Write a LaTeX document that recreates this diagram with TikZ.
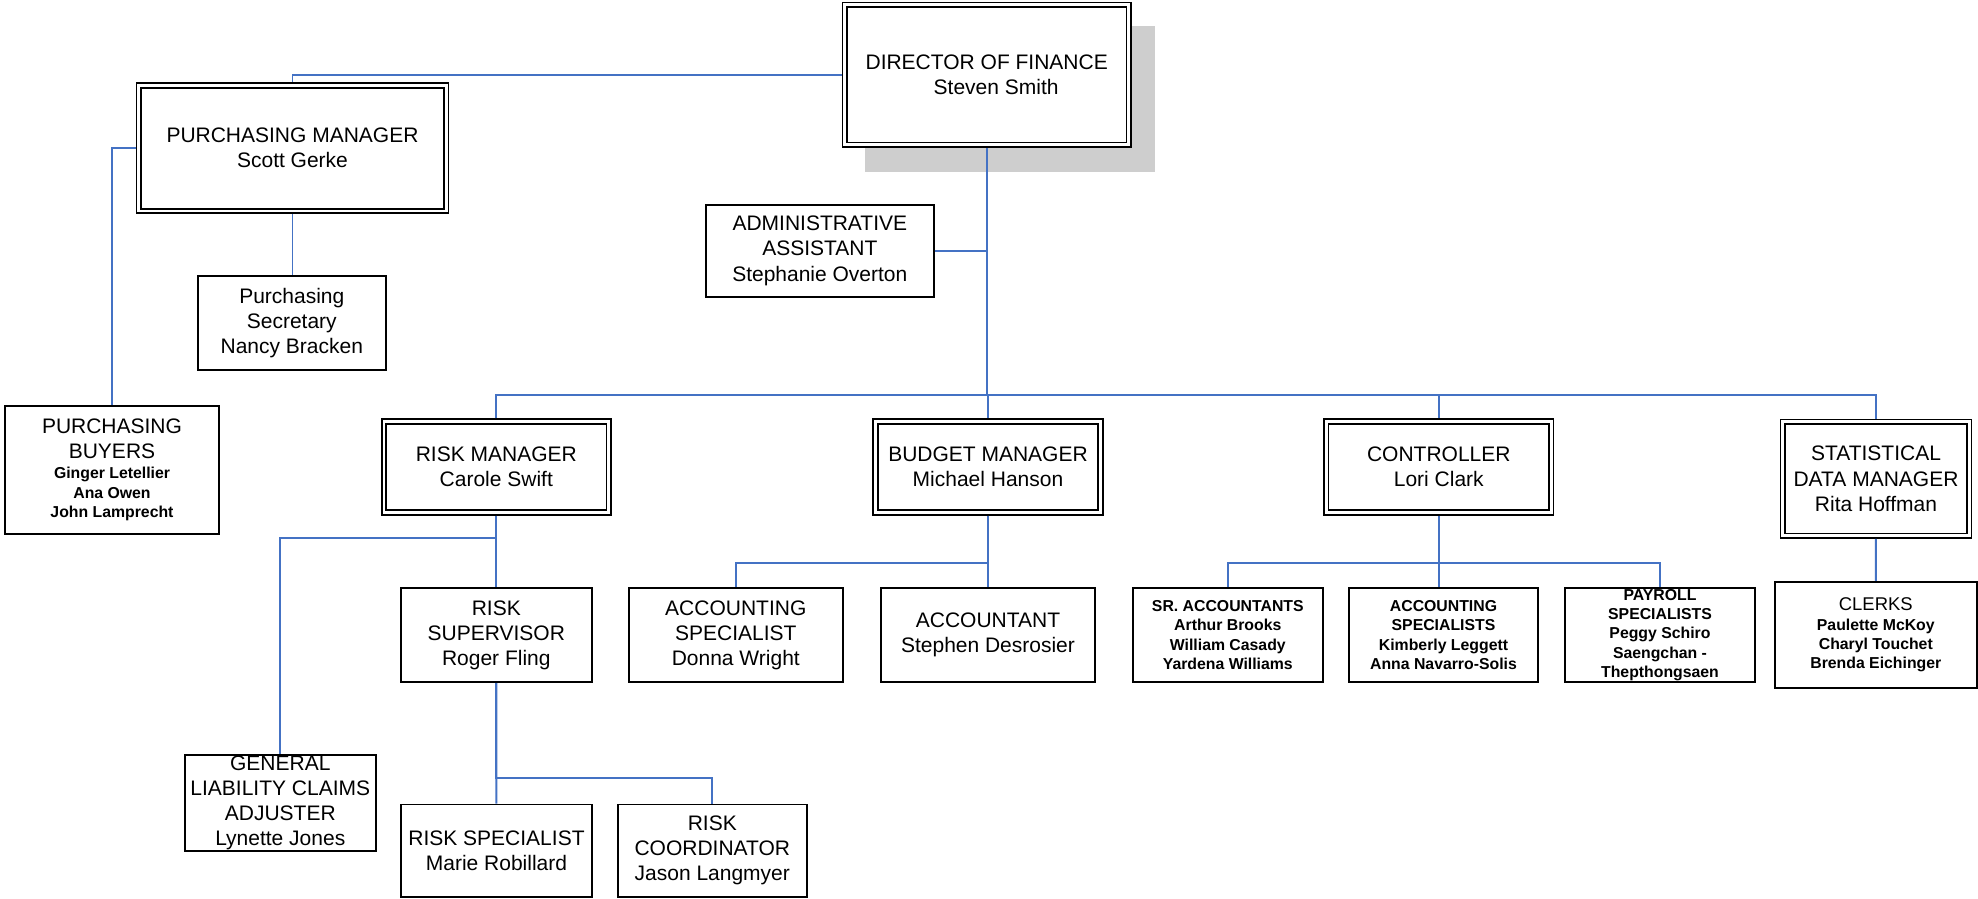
\documentclass[tikz,border=0pt]{standalone}
\usepackage{fontspec}
\setmainfont{Liberation Sans}
\definecolor{linkblue}{RGB}{68,114,196}
\definecolor{shadowgray}{RGB}{206,206,206}
\newcommand{\head}[1]{{\mdseries\fontsize{11.95}{14.3}\selectfont #1}}

\begin{document}
\begin{tikzpicture}[x=0.02cm, y=-0.02cm,
  box/.style={draw, line width=1.1pt, fill=white, align=center, inner sep=0.5pt, font=\fontsize{11.95}{14.3}\selectfont},
  mgr/.style={box, double, line width=1pt, double distance=1.5pt, outer sep=1.75pt},
  crew/.style={box, font=\fontsize{9}{11}\selectfont\bfseries},
  link/.style={draw=linkblue, line width=1.1pt}]

\useasboundingbox (0,0) rectangle (1978,899);
\fill[shadowgray] (865,26) rectangle (1155,171.7);

\node[mgr, minimum width=5.68cm, minimum height=2.8cm] (dir) at (986.7,74.7) {DIRECTOR OF FINANCE\\\hspace*{0.9em}Steven Smith};
\node[mgr, minimum width=6.15cm, minimum height=2.51cm] (pm) at (292.5,148.2) {PURCHASING MANAGER\\Scott Gerke};
\node[box, minimum width=3.77cm, minimum height=1.87cm] (sec) at (291.8,322.8) {Purchasing\\Secretary\\Nancy Bracken};
\node[crew, minimum width=4.28cm, minimum height=2.56cm] (buy) at (112,470) {\head{PURCHASING}\\[2.8pt]\head{BUYERS}\\[0.8pt]Ginger Letellier\\Ana Owen\\John Lamprecht};
\node[box, minimum width=4.55cm, minimum height=1.85cm] (adm) at (819.8,250.8) {ADMINISTRATIVE\\ASSISTANT\\Stephanie Overton};

\node[mgr, minimum width=4.5cm, minimum height=1.82cm] (rsk) at (496.3,467) {RISK MANAGER\\Carole Swift};
\node[mgr, minimum width=4.5cm, minimum height=1.82cm] (bud) at (988,467) {BUDGET MANAGER\\Michael Hanson};
\node[mgr, minimum width=4.5cm, minimum height=1.82cm] (ctl) at (1438.8,467) {CONTROLLER\\Lori Clark};
\node[mgr, minimum width=3.73cm, minimum height=2.28cm] (stat) at (1876,478.8) {STATISTICAL\\DATA MANAGER\\Rita Hoffman};

\node[box, minimum width=3.81cm, minimum height=1.89cm] (rsup) at (496.3,635) {RISK\\SUPERVISOR\\Roger Fling};
\node[box, minimum width=4.29cm, minimum height=1.89cm] (acsp) at (735.8,635) {ACCOUNTING\\SPECIALIST\\Donna Wright};
\node[box, minimum width=4.28cm, minimum height=1.89cm] (acct) at (988,635) {ACCOUNTANT\\Stephen Desrosier};
\node[crew, minimum width=3.81cm, minimum height=1.89cm] (sra) at (1227.8,635) {SR. ACCOUNTANTS\\Arthur Brooks\\William Casady\\Yardena Williams};
\node[crew, minimum width=3.79cm, minimum height=1.89cm] (acs) at (1443.5,635) {ACCOUNTING\\SPECIALISTS\\Kimberly Leggett\\Anna Navarro-Solis};
\node[crew, minimum width=3.8cm, minimum height=1.89cm] (pay) at (1660,635) {PAYROLL\\SPECIALISTS\\Peggy Schiro\\Saengchan -\\Thepthongsaen};
\node[crew, minimum width=4.03cm, minimum height=2.13cm] (clk) at (1875.8,635) {{\mdseries\fontsize{10.5}{13}\selectfont CLERKS}\\Paulette McKoy\\Charyl Touchet\\Brenda Eichinger};

\node[box, minimum width=3.81cm, minimum height=1.88cm] (gl) at (280.3,803) {GENERAL\\LIABILITY CLAIMS\\ADJUSTER\\Lynette Jones};
\node[box, minimum width=3.81cm, minimum height=1.85cm] (rspec) at (496.5,850.7) {RISK SPECIALIST\\Marie Robillard};
\node[box, minimum width=3.79cm, minimum height=1.85cm] (rco) at (712.3,850.7) {RISK\\COORDINATOR\\Jason Langmyer};

\coordinate (bus) at (986.7,395);

\draw[link] (dir.west) -| (pm.north);
\draw[link] (pm.west) -| (buy.north);
\draw[link] (pm.south) to (pm.south |- sec.north);
\draw[link] (dir.south) to (bus);
\draw[link] (adm.east) to (adm.east -| bus);
\draw[link] (rsk.north) |- (bus) -| (stat.north);
\draw[link] (bus -| bud.north) to (bud.north);
\draw[link] (bus -| ctl.north) to (ctl.north);

\draw[link] (rsk) to (rsup);
\draw[link] (rsk.south) -- ++(0,22.6) -| (gl.north);
\draw[link] (rsup) to (rspec);
\draw[link] (rsup.south) -- ++(0,95) -| (rco.north);
\draw[link] (bud) to (acct);
\draw[link] (bud.south) -- ++(0,47.6) -| (acsp.north);
\draw[link] (ctl.south) to (ctl.south |- acs.north);
\draw[link] (sra.north) -- ++(0,-23.4) -| (pay.north);
\draw[link] (stat) to (clk);

\end{tikzpicture}
\end{document}
